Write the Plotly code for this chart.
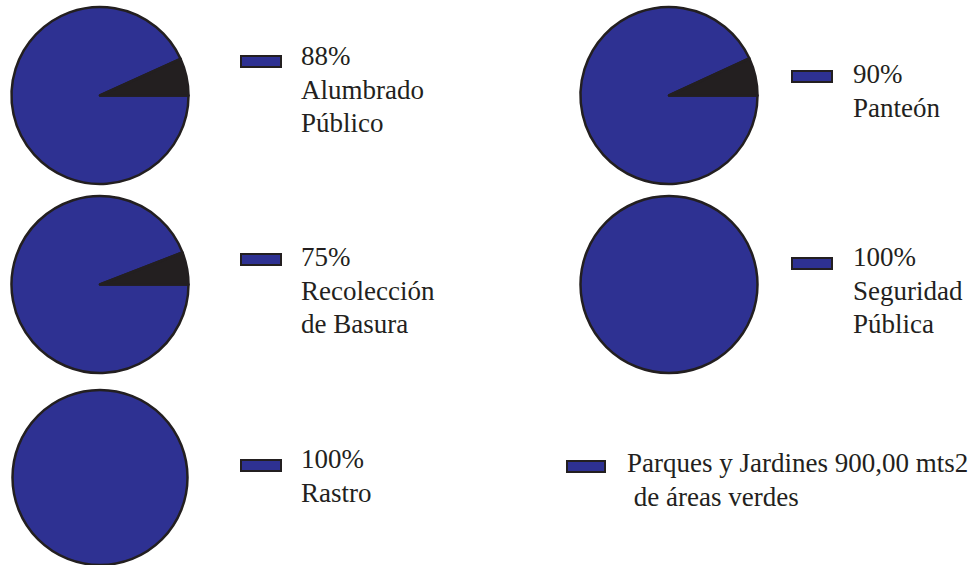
import plotly.graph_objects as go

# ---- data ----
services = ["Alumbrado Público", "Panteón", "Recolección de Basura", "Seguridad Pública", "Rastro"]
pct_labels = ["88%", "90%", "75%", "100%", "100%"]
label_lines = [["Alumbrado", "Público"], ["Panteón"], ["Recolección", "de Basura"],
               ["Seguridad", "Pública"], ["Rastro"]]
covered = [93.2, 93.1, 94.1, 100, 100]
uncovered = [6.8, 6.9, 5.9, 0, 0]
extra_item = ["Parques y Jardines 900,00 mts2", " de áreas verdes"]

# ---- style / layout ----
W, H = 978, 565
BLUE = "#2e3192"
DARK = "#231f20"
FONT = "Liberation Serif"
FS = 27

def px(x):
    return x / W

def py(y):
    return 1 - y / H

# pie domains in pixels: (x0, x1, y_top, y_bottom)
pie_boxes = [(11, 189, 7, 184), (580, 758, 7, 184), (11, 189, 196, 373),
             (580, 758, 196, 373), (11, 189, 390, 565)]
# legend groups: swatch (x0, x1, y0, y1), text x, first baseline
legend_pos = [((241, 281, 56, 67), 299, 66),
              ((792, 832, 71, 82), 851, 84),
              ((241, 281, 254, 265), 299, 267),
              ((792, 832, 258, 269), 851, 267),
              ((241, 281, 460, 471), 299, 469)]
extra_pos = ((567, 605, 461, 472), 625, 473)
LINE_H = 33.5
DESC = 7  # pixels from baseline to annotation box bottom

fig = go.Figure()
for i, name in enumerate(services):
    x0, x1, y0, y1 = pie_boxes[i]
    labs, vals, cols = [], [], []
    for lab, v, c in (("Cobertura", covered[i], BLUE), ("Sin cobertura", uncovered[i], DARK)):
        if v > 0:
            labs.append(lab); vals.append(v); cols.append(c)
    fig.add_trace(go.Pie(
        labels=labs, values=vals,
        sort=False, direction="counterclockwise", rotation=90,
        marker=dict(colors=cols, line=dict(color=DARK, width=2.5)),
        textinfo="none", hoverinfo="skip", showlegend=False,
        domain=dict(x=[px(x0), px(x1)], y=[py(y1), py(y0)]),
        name=name,
    ))

shapes = []
annotations = []

def add_group(sw, tx, base, lines):
    sx0, sx1, sy0, sy1 = sw
    shapes.append(dict(type="rect", xref="paper", yref="paper",
                       x0=px(sx0), x1=px(sx1), y0=py(sy1), y1=py(sy0),
                       fillcolor=BLUE, line=dict(color=DARK, width=2)))
    for k, line in enumerate(lines):
        annotations.append(dict(text=line, xref="paper", yref="paper",
                                x=px(tx), y=py(base + k * LINE_H + DESC),
                                xanchor="left", yanchor="bottom", showarrow=False,
                                font=dict(family=FONT, size=FS, color=DARK)))

for i in range(len(services)):
    sw, tx, base = legend_pos[i]
    add_group(sw, tx, base, [pct_labels[i]] + label_lines[i])

sw, tx, base = extra_pos
add_group(sw, tx, base, extra_item)

fig.update_layout(width=W, height=H, margin=dict(l=0, r=0, t=0, b=0),
                  paper_bgcolor="white", plot_bgcolor="white",
                  font=dict(family=FONT),
                  shapes=shapes, annotations=annotations)
fig.write_html("out.html")
